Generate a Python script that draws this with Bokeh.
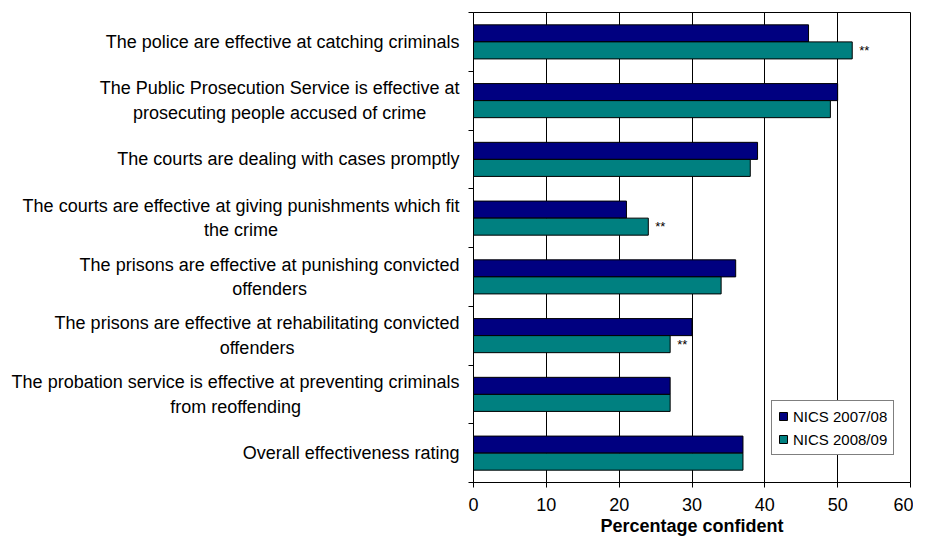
from bokeh.plotting import figure
from bokeh.layouts import row
from bokeh.models import Range1d, FixedTicker, ColumnDataSource, Legend, LegendItem
from bokeh.transform import dodge
from bokeh.core.properties import value
from bokeh.embed import file_html
from bokeh.resources import INLINE

categories = [
    "The police are effective at catching criminals",
    "The Public Prosecution Service is effective at\nprosecuting people accused of crime",
    "The courts are dealing with cases promptly",
    "The courts are effective at giving punishments which fit\nthe crime",
    "The prisons are effective at punishing convicted\noffenders",
    "The prisons are effective at rehabilitating convicted\noffenders",
    "The probation service is effective at preventing criminals\nfrom reoffending",
    "Overall effectiveness rating",
]
nics_2007_08 = [46, 50, 39, 21, 36, 30, 27, 37]
nics_2008_09 = [52, 49, 38, 24, 34, 27, 27, 37]
significance = ["**", "", "", "**", "", "**", "", ""]
x_ticks = [0, 10, 20, 30, 40, 50, 60]
series_names = ["NICS 2007/08", "NICS 2008/09"]

FONT = "Liberation Sans"
n = len(categories)
ypos = [n - i - 0.5 for i in range(n)]
src = ColumnDataSource(dict(y=ypos, a=nics_2007_08, b=nics_2008_09, sig=significance,
                            cat=categories, lx=[1] * n))

TOTAL_W, TOTAL_H = 913, 541
LABEL_W = 468
TOP, BOTTOM = 12, 59

# ---- main chart ----
p = figure(width=TOTAL_W - LABEL_W, height=TOTAL_H, x_range=Range1d(0, 60), y_range=Range1d(0, n),
           output_backend="svg", toolbar_location=None,
           min_border_left=5, min_border_right=3, min_border_top=TOP, min_border_bottom=BOTTOM)

p.outline_line_color = "black"
p.outline_line_width = 1

p.xgrid.ticker = FixedTicker(ticks=x_ticks)
p.xgrid.grid_line_color = "black"
p.xgrid.grid_line_width = 1
p.ygrid.visible = False

p.xaxis.ticker = FixedTicker(ticks=x_ticks)
p.xaxis.axis_label = "Percentage confident"
p.xaxis.axis_label_text_font = FONT
p.xaxis.axis_label_text_font_style = "bold"
p.xaxis.axis_label_text_font_size = "18px"
p.xaxis.axis_label_text_color = "black"
p.xaxis.axis_label_standoff = 2
p.xaxis.major_label_text_font = FONT
p.xaxis.major_label_text_font_size = "18px"
p.xaxis.major_label_text_color = "black"
p.xaxis.major_label_standoff = 10
p.xaxis.major_tick_out = 5
p.xaxis.major_tick_in = 0
p.xaxis.minor_tick_line_color = None
p.xaxis.axis_line_color = "black"
p.xaxis.major_tick_line_color = "black"

# y axis: only tick marks at category boundaries
p.yaxis.ticker = FixedTicker(ticks=ypos, minor_ticks=list(range(n + 1)))
p.yaxis.major_label_overrides = {y: "" for y in ypos}
p.yaxis.major_label_text_font_size = "0px"
p.yaxis.major_label_standoff = 0
p.yaxis.major_tick_out = 0
p.yaxis.major_tick_in = 0
p.yaxis.minor_tick_out = 5
p.yaxis.minor_tick_in = 0
p.yaxis.minor_tick_line_color = "black"
p.yaxis.axis_line_color = "black"

r1 = p.hbar(y=dodge("y", 0.145), left=0, right="a", height=0.29, source=src,
            fill_color="#000080", line_color="black", line_width=1)
r2 = p.hbar(y=dodge("y", -0.145), left=0, right="b", height=0.29, source=src,
            fill_color="#008080", line_color="black", line_width=1)

p.text(x="b", y=dodge("y", -0.145), text="sig", source=src, x_offset=7,
       text_baseline="middle", text_align="left", text_font=value(FONT),
       text_font_size="13px", text_color="black")

legend = Legend(items=[LegendItem(label=series_names[0], renderers=[r1]),
                       LegendItem(label=series_names[1], renderers=[r2])],
                location=(298, 27))
legend.label_text_font = FONT
legend.label_text_font_size = "15px"
legend.label_text_color = "black"
legend.label_height = 18
legend.glyph_width = 10
legend.glyph_height = 10
legend.label_standoff = 5
legend.padding = 6
legend.spacing = 5
legend.margin = 0
legend.border_line_color = "black"
legend.border_line_width = 1
legend.background_fill_color = "white"
legend.background_fill_alpha = 1
p.add_layout(legend)

# ---- category labels panel (shares the y range) ----
lf = figure(width=LABEL_W, height=TOTAL_H, x_range=Range1d(0, 1), y_range=p.y_range,
            output_backend="svg", toolbar_location=None,
            min_border_left=0, min_border_right=0, min_border_top=TOP, min_border_bottom=BOTTOM)
lf.axis.visible = False
lf.grid.visible = False
lf.outline_line_color = None
lf.text(x="lx", y="y", text="cat", source=src, x_offset=-9,
        anchor="center_right", text_align="center", text_baseline="middle",
        text_font=value(FONT), text_font_size="18px", text_color="black",
        text_line_height=1.22)

layout = row(lf, p, spacing=0)
open("out.html", "w").write(file_html(layout, INLINE))
